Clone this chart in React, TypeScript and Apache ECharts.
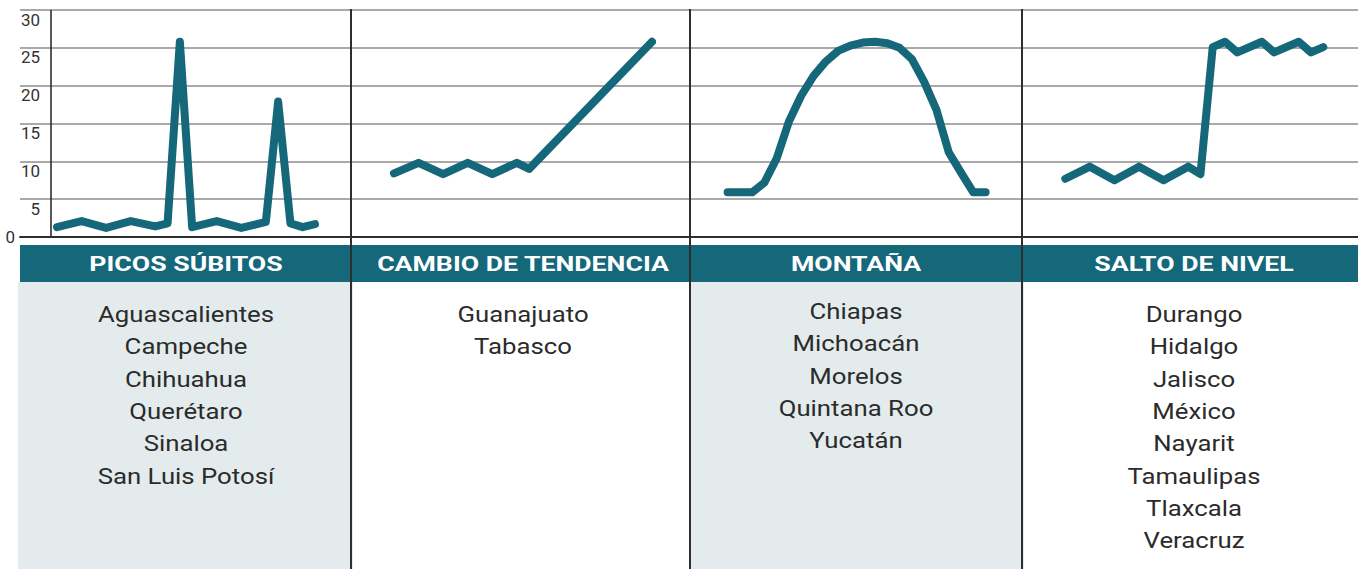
import React, { useEffect, useRef } from "react";
import * as echarts from "echarts";

// ---------- data ----------
const yMin = 0;
const yMax = 30;
const yStep = 5;
const timeSteps = 21; // 22 points per panel, indices 0..21

const panelTitles = ["PICOS SÚBITOS", "CAMBIO DE TENDENCIA", "MONTAÑA", "SALTO DE NIVEL"];

const statesPicos = ["Aguascalientes", "Campeche", "Chihuahua", "Querétaro", "Sinaloa", "San Luis Potosí"];
const statesCambio = ["Guanajuato", "Tabasco"];
const statesMontana = ["Chiapas", "Michoacán", "Morelos", "Quintana Roo", "Yucatán"];
const statesSalto = ["Durango", "Hidalgo", "Jalisco", "México", "Nayarit", "Tamaulipas", "Tlaxcala", "Veracruz"];

// [time index, value]
const picosValues = [
  [0, 1.3], [2, 2.1], [4, 1.2], [6, 2.1], [8, 1.4], [9, 1.8], [10, 25.8], [11, 1.3],
  [13, 2.1], [15, 1.2], [17, 2.0], [18, 17.9], [19, 1.8], [20, 1.3], [21, 1.7],
];
const cambioValues = [
  [0, 8.4], [2, 9.8], [4, 8.3], [6, 9.8], [8, 8.3], [10, 9.8], [11, 9.0], [21, 25.8],
];
const montanaValues = [
  [0, 5.9], [1, 5.9], [2, 5.9], [3, 7.2], [4, 10.4], [5, 15.3], [6, 18.7], [7, 21.3],
  [8, 23.2], [9, 24.6], [10, 25.3], [11, 25.7], [12, 25.8], [13, 25.6], [14, 25.0],
  [15, 23.5], [16, 20.5], [17, 16.8], [18, 11.2], [19, 8.5], [20, 5.9], [21, 5.9],
];
const saltoValues = [
  [0, 7.7], [2, 9.3], [4, 7.5], [6, 9.3], [8, 7.5], [10, 9.3], [11, 8.3], [12, 25.1],
  [13, 25.8], [14, 24.4], [16, 25.8], [17, 24.4], [19, 25.8], [20, 24.4], [21, 25.1],
];

const seriesValues = [picosValues, cambioValues, montanaValues, saltoValues];
const panelStates = [statesPicos, statesCambio, statesMontana, statesSalto];

// ---------- layout / style ----------
const W = 1358;
const H = 569;
const plotTop = 10;
const plotBottom = 237;
const panelEdges = [20, 351, 690, 1022, 1358];
const panelDataLeft = [57, 394, 727.6, 1065.3];
const panelDataWidth = 258;
const panelCenters = [186, 523, 856, 1194];
const listTop = [314, 314, 311, 314];
const listLineHeight = 32.3;
const headerTop = 245;
const headerBottom = 282;
const TEAL = "#15677a";
const LIGHT = "#e3ebed";
const DARK = "#2e2e2e";
const FONT = "Roboto";

export default function App() {
  const ref = useRef<HTMLDivElement>(null);

  useEffect(() => {
    if (!ref.current) return;
    const chart = echarts.init(ref.current, undefined, { renderer: "svg" });

    const plotH = plotBottom - plotTop;

    const grids: any[] = [
      { left: panelEdges[0], top: plotTop, width: W - panelEdges[0], height: plotH },
      ...panelDataLeft.map((l) => ({ left: l, top: plotTop, width: panelDataWidth, height: plotH })),
    ];

    const xAxes: any[] = [
      {
        gridIndex: 0, type: "value", min: 0, max: 1,
        axisLine: { show: true, onZero: false, lineStyle: { color: DARK, width: 2 } },
        axisTick: { show: false }, axisLabel: { show: false }, splitLine: { show: false },
      },
      ...panelDataLeft.map((_, i) => ({
        gridIndex: i + 1, type: "value", min: 0, max: timeSteps, show: false,
      })),
    ];

    const yAxes: any[] = [
      {
        gridIndex: 0, type: "value", position: "left", min: yMin, max: yMax, interval: yStep,
        axisLine: { show: false }, axisTick: { show: false },
        splitLine: { show: true, lineStyle: { color: "#a9a9a9", width: 2 } },
        axisLabel: {
          inside: true, margin: 20, align: "right", verticalAlign: "top",
          fontSize: 17, fontFamily: FONT, color: "#333", padding: [1, 0, 0, 0],
          formatter: (v: number) => (v === 0 ? "" : String(v)),
        },
      },
      {
        gridIndex: 0, type: "value", position: "left", offset: 0,
        min: yMin, max: yMax, interval: yMax,
        axisLine: { show: false }, axisTick: { show: false }, splitLine: { show: false },
        axisLabel: {
          margin: 5, fontSize: 17, fontFamily: FONT, color: "#333", padding: [7, 0, 0, 0],
          formatter: (v: number) => (v === 0 ? "0" : ""),
        },
      },
      ...panelDataLeft.map((_, i) => ({
        gridIndex: i + 1, type: "value", min: yMin, max: yMax, show: false,
      })),
    ];

    const series: any[] = seriesValues.map((vals, i) => ({
      type: "line",
      xAxisIndex: i + 1,
      yAxisIndex: i + 2,
      data: vals,
      showSymbol: false,
      symbol: "none",
      lineStyle: { color: TEAL, width: 8, cap: "round", join: "round" },
      silent: true,
      z: 5,
    }));

    const graphics: any[] = [];
    // light backgrounds for panels 1 and 3
    [0, 2].forEach((p) => {
      const x0 = p === 0 ? 18 : panelEdges[p];
      graphics.push({
        type: "rect", z: 0,
        shape: { x: x0, y: headerBottom, width: panelEdges[p + 1] - x0 + 2, height: H - headerBottom },
        style: { fill: LIGHT },
      });
    });
    // header band
    graphics.push({
      type: "rect", z: 1,
      shape: { x: panelEdges[0], y: headerTop, width: W - panelEdges[0], height: headerBottom - headerTop },
      style: { fill: TEAL },
    });
    // header titles
    panelTitles.forEach((t, i) => {
      graphics.push({
        type: "text", z: 3,
        x: panelCenters[i], y: (headerTop + headerBottom) / 2 + 0.5,
        scaleX: 1.27,
        style: {
          text: t, x: 0, y: 0,
          align: "center", verticalAlign: "middle",
          textAlign: "center", textVerticalAlign: "middle",
          fontSize: 21, fontWeight: "bold", fontFamily: FONT, fill: "#ffffff",
        },
      });
    });
    // state lists
    panelStates.forEach((list, i) => {
      list.forEach((s, j) => {
        graphics.push({
          type: "text", z: 3,
          x: panelCenters[i], y: listTop[i] + j * listLineHeight,
          scaleX: 1.12,
          style: {
            text: s, x: 0, y: 0,
            align: "center", verticalAlign: "middle",
            textAlign: "center", textVerticalAlign: "middle",
            fontSize: 23, fontFamily: FONT, fill: "#2b2b2b",
          },
        });
      });
    });
    // first axis line
    graphics.push({
      type: "line", z: 10,
      shape: { x1: 51, y1: plotTop, x2: 51, y2: plotBottom },
      style: { stroke: DARK, lineWidth: 1.6 },
    });
    // panel dividers
    [1, 2, 3].forEach((p) => {
      graphics.push({
        type: "line", z: 10,
        shape: { x1: panelEdges[p], y1: plotTop - 1, x2: panelEdges[p], y2: H },
        style: { stroke: DARK, lineWidth: 2 },
      });
    });

    chart.setOption({
      animation: false,
      backgroundColor: "#ffffff",
      grid: grids,
      xAxis: xAxes,
      yAxis: yAxes,
      series,
      graphic: { elements: graphics },
    });

    return () => chart.dispose();
  }, []);

  return (
    <div
      ref={ref}
      style={{ position: "absolute", left: 0, top: 0, width: W, height: H }}
    />
  );
}
